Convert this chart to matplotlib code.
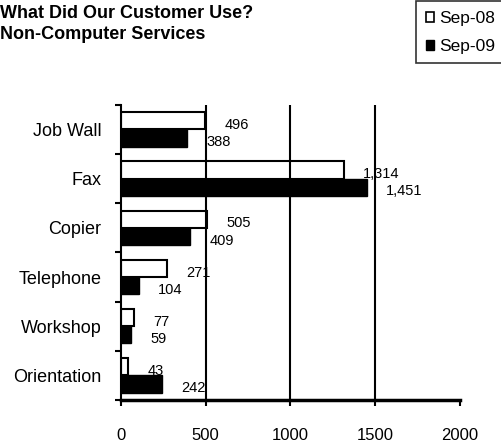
import matplotlib.pyplot as plt
import numpy as np
from matplotlib.patches import Patch

plt.rcParams['font.family'] = ['Liberation Sans', 'DejaVu Sans']

categories = ["Job Wall", "Fax", "Copier", "Telephone", "Workshop", "Orientation"]
sep08 = [496, 1314, 505, 271, 77, 43]
sep09 = [388, 1451, 409, 104, 59, 242]
series_names = ["Sep-08", "Sep-09"]

fig = plt.figure(figsize=(5.02, 4.44), dpi=100)
ax = fig.add_axes([0.241, 0.099, 0.675, 0.665])

y = np.arange(len(categories))
h = 0.35
ax.barh(y - h / 2, sep08, height=h, color='white', edgecolor='black', linewidth=1.5, zorder=2)
ax.barh(y + h / 2, sep09, height=h, color='black', edgecolor='black', linewidth=1, zorder=2)

# value labels, sitting a bit to the right of each bar
for yi, v in zip(y - h / 2, sep08):
    ax.annotate(f"{v:,}", (v, yi), xytext=(14, -3), textcoords='offset points',
                ha='left', va='center', fontsize=10.5, zorder=1)
for yi, v in zip(y + h / 2, sep09):
    ax.annotate(f"{v:,}", (v, yi), xytext=(14, -3), textcoords='offset points',
                ha='left', va='center', fontsize=10.5, zorder=1)

ax.set_xlim(0, 2000)
ax.set_ylim(len(categories) - 0.5, -0.5)
ax.set_xticks([0, 500, 1000, 1500, 2000])
ax.set_yticks(y)
ax.set_yticklabels(categories)
ax.set_yticks(np.arange(-0.5, len(categories)), minor=True)
ax.tick_params(axis='y', which='major', length=0, pad=14, labelsize=13)
ax.tick_params(axis='y', which='minor', length=4, width=1.5, direction='out')
ax.tick_params(axis='x', length=4, width=1.5, direction='out', pad=16, labelsize=12)

for x in [500, 1000, 1500]:
    ax.axvline(x, color='black', linewidth=1.5, zorder=3)

ax.spines['top'].set_visible(False)
ax.spines['right'].set_visible(False)
ax.spines['left'].set_linewidth(1.5)
ax.spines['bottom'].set_linewidth(2.5)
ax.spines['bottom'].set_zorder(4)

fig.text(0.0, 0.988, "What Did Our Customer Use?\nNon-Computer Services",
         ha='left', va='top', fontsize=13, fontweight='bold', linespacing=1.3)

handles = [Patch(facecolor='white', edgecolor='black', linewidth=1.2),
           Patch(facecolor='black', edgecolor='black')]
leg = fig.legend(handles, series_names, loc='upper right', bbox_to_anchor=(1.006, 0.997),
                 fontsize=12.5, frameon=True, fancybox=False, handlelength=0.5,
                 handleheight=0.5, handletextpad=0.3, borderpad=0.55, labelspacing=0.75,
                 borderaxespad=0.0)
leg.get_frame().set_edgecolor('black')
leg.get_frame().set_linewidth(1.2)

fig.savefig("out.png", dpi=100)
